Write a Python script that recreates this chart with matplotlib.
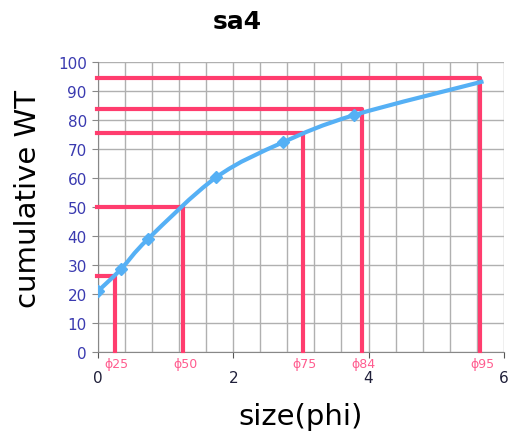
import matplotlib.pyplot as plt
from matplotlib.path import Path
from matplotlib.patches import PathPatch

# cumulative curve (phi, cumulative wt %)
size_phi = [0.0, 0.34, 0.74, 1.75, 2.74, 3.78, 5.7]
cum_wt = [21.0, 28.6, 39.0, 60.3, 72.4, 81.7, 93.4]

# percentile readings
pct_labels = ['ϕ25', 'ϕ50', 'ϕ75', 'ϕ84', 'ϕ95']
pct_y = [26.3, 50.2, 75.5, 83.8, 94.7]
pct_x = [0.25, 1.26, 3.03, 3.9, 5.65]

blue = '#55B0F5'
red = '#FF3D6E'

fig = plt.figure(figsize=(5.13, 4.39), dpi=100)
ax = fig.add_axes([0.191, 0.196, 0.791, 0.66])

# smooth line like excel (catmull-rom -> bezier)
pts = list(zip(size_phi, cum_wt))
verts = [pts[0]]
codes = [Path.MOVETO]
n = len(pts)
for i in range(n - 1):
    p0 = pts[i - 1] if i > 0 else pts[i]
    p1 = pts[i]
    p2 = pts[i + 1]
    p3 = pts[i + 2] if i + 2 < n else pts[i + 1]
    c1 = (p1[0] + (p2[0] - p0[0]) / 6, p1[1] + (p2[1] - p0[1]) / 6)
    c2 = (p2[0] - (p3[0] - p1[0]) / 6, p2[1] - (p3[1] - p1[1]) / 6)
    verts += [c1, c2, p2]
    codes += [Path.CURVE4] * 3
ax.add_patch(PathPatch(Path(verts, codes), fill=False, edgecolor=blue, lw=3, zorder=4))
ax.plot(size_phi[:-1], cum_wt[:-1], 'D', color=blue, ms=6, zorder=5)

# red percentile lines
for lx, ly, lab in zip(pct_x, pct_y, pct_labels):
    ax.plot([-0.02, lx, lx], [ly, ly, 0.5], color=red, lw=3, zorder=3, clip_on=False)
    ax.text(lx + 0.03, -1.8, lab, color='#FF5C8F', fontsize=9, ha='center', va='top')

ax.set_xlim(0, 6)
ax.set_ylim(0, 100)
ax.set_xticks([0, 2, 4, 6])
ax.set_xticks([i * 0.4 for i in range(16)], minor=True)
ax.set_yticks(range(0, 101, 10))
ax.grid(True, which='both', color='#b0b0b0', lw=1)
ax.set_axisbelow(True)
for s in ax.spines.values():
    s.set_visible(False)
ax.spines['left'].set_visible(True)
ax.spines['bottom'].set_visible(True)
ax.spines['left'].set_color('#888888')
ax.spines['bottom'].set_color('#888888')
ax.tick_params(axis='y', colors='#888888', labelcolor='#3a3ab0', labelsize=11, length=4, pad=4)
ax.tick_params(axis='x', which='major', colors='#555555', labelcolor='#20203a', labelsize=11, length=4, pad=9)
ax.tick_params(axis='x', which='minor', length=0)

fig.text(0.462, 0.95, 'sa4', fontsize=18, fontweight='bold', ha='center', va='center')
ax.set_ylabel('cumulative WT', fontsize=21, labelpad=4)
ax.yaxis.set_label_coords(-0.138, 0.53)
ax.set_xlabel('size(phi)', fontsize=21, labelpad=12)

fig.savefig('out.png', dpi=100)
